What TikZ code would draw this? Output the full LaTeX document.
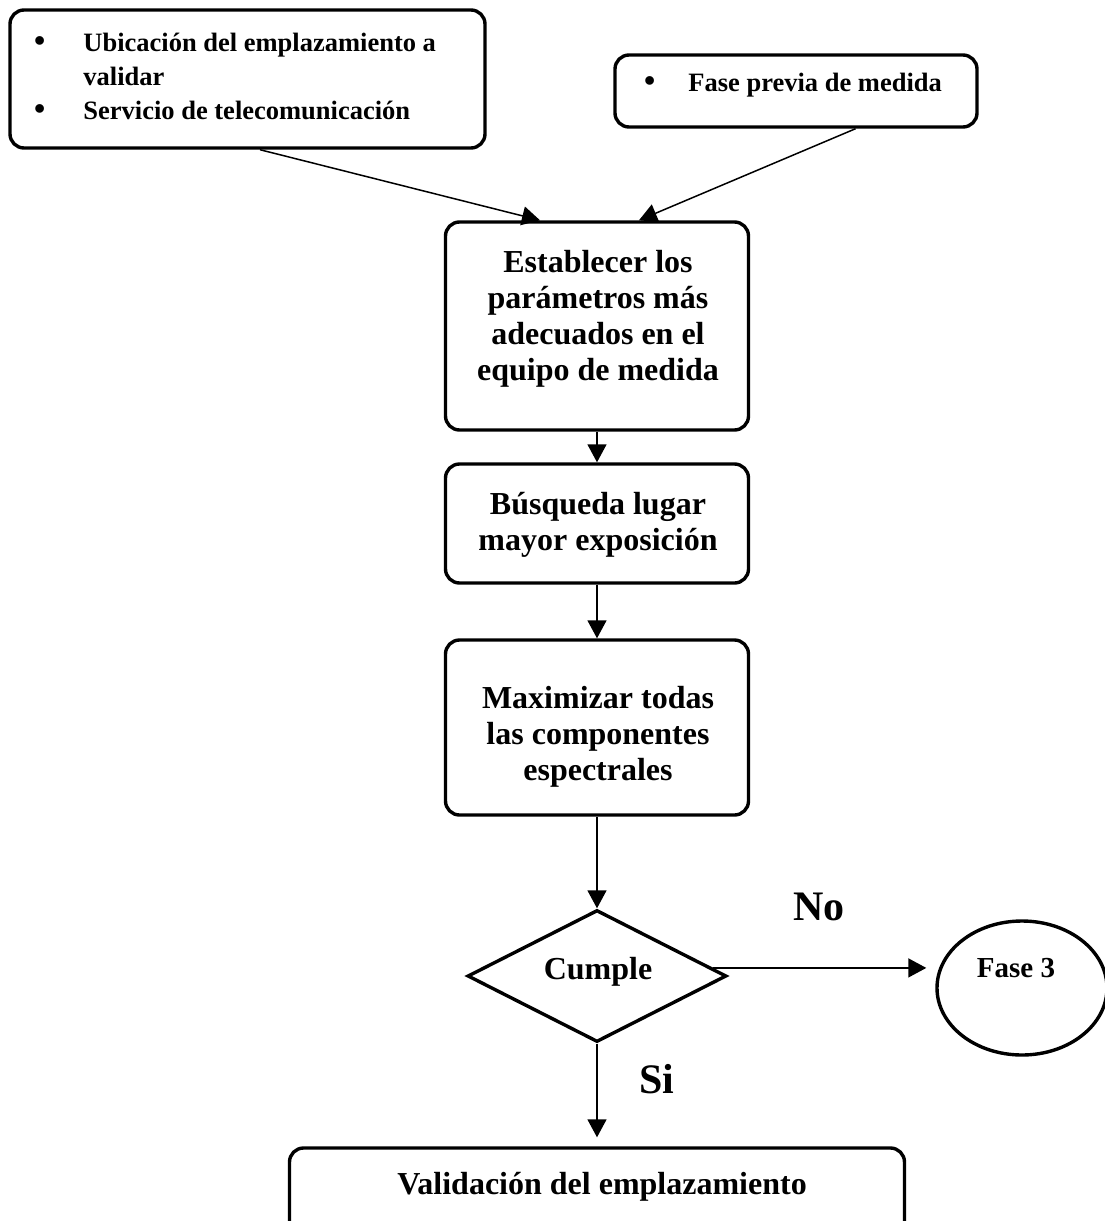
\documentclass[tikz,border=0pt]{standalone}
\usepackage{fontspec}
\setmainfont{Liberation Serif}
\usetikzlibrary{shapes.geometric,arrows.meta,calc}

\begin{document}
\begin{tikzpicture}[x=1pt,y=-1pt,
  box/.style={draw,line width=3.4pt,rounded corners=14pt,inner sep=0pt},
  outline/.style={draw,line width=3.4pt,inner sep=0pt},
  arr/.style={line width=1.5pt,-{Triangle[length=18pt,width=19pt]}},
  smalltxt/.style={inner sep=0pt,font=\fontsize{26.5}{34}\selectfont\bfseries},
  midtxt/.style={inner sep=0pt,align=center,font=\fontsize{32}{36}\selectfont\bfseries},
  bigtxt/.style={inner sep=0pt,font=\fontsize{42}{46}\selectfont\bfseries}]
\useasboundingbox (0,0) rectangle (1105,1221);
\clip (0,0) rectangle (1105,1221);

% input boxes
\node[box,minimum width=475pt,minimum height=138pt] (inputs) at (247.5,79) {};
\node[smalltxt,anchor=west] (inputstext) at (34,79)
  {\begin{tabular}{@{}c@{\hspace{38pt}}l@{}}
   {\fontsize{32}{34}\selectfont •} & Ubicación del emplazamiento a\\
     & validar\\
   {\fontsize{32}{34}\selectfont •} & Servicio de telecomunicación
   \end{tabular}};

\node[box,minimum width=362pt,minimum height=72pt] (prev) at (796,91) {};
\node[smalltxt,anchor=west] (prevtext) at (644,85)
  {\begin{tabular}{@{}c@{\hspace{33pt}}l@{}}
   {\fontsize{32}{34}\selectfont •} & Fase previa de medida
   \end{tabular}};

% main column
\node[box,minimum width=303pt,minimum height=208pt] (param) at (597,326) {};
\node[midtxt] (paramtext) at (598,319)
  {Establecer los\\parámetros más\\adecuados en el\\equipo de medida};
\node[box,minimum width=303pt,minimum height=119pt] (search) at (597,523.5) {};
\node[midtxt] (searchtext) at (598,525)
  {Búsqueda lugar\\mayor exposición};
\node[box,minimum width=303pt,minimum height=175pt] (maxim) at (597,727.5) {};
\node[midtxt] (maximtext) at (598,737)
  {Maximizar todas\\las componentes\\espectrales};

% decision
\node[outline,diamond,minimum width=259pt,minimum height=132pt] (check) at (597,976) {};
\node[inner sep=0pt,font=\fontsize{32}{34}\selectfont\bfseries] (cumple) at (598,972) {Cumple};

\node[outline,ellipse,minimum width=170pt,minimum height=134pt] (phase3) at (1022,988) {};
\node[inner sep=0pt,font=\fontsize{29}{34}\selectfont\bfseries] (phase3text) at (1016,968) {Fase 3};

\node[box,minimum width=615pt,minimum height=120pt] (valid) at (597,1208) {};
\node[inner sep=0pt,font=\fontsize{32}{36}\selectfont\bfseries] (validtext) at (602,1187) {Validación del emplazamiento};

\node[bigtxt] (nolabel) at (819,907) {No};
\node[bigtxt] (silabel) at (657,1079) {Si};

% connectors
\draw[arr] ($(inputs.south west)!0.526!(inputs.south east)$) -- ($(param.north west)!0.314!(param.north east)$);
\draw[arr] ($(prev.south west)!0.663!(prev.south east)$) -- ($(param.north west)!0.637!(param.north east)$);
\draw[arr] (param) -- (search);
\draw[arr] (search) -- (maxim);
\draw[arr] (maxim) -- (check);
\draw[arr,shorten >=9pt] (check.4) -- (check.4 -| phase3.west);
\draw[arr,shorten >=9pt] (check) -- (valid);
\end{tikzpicture}
\end{document}
